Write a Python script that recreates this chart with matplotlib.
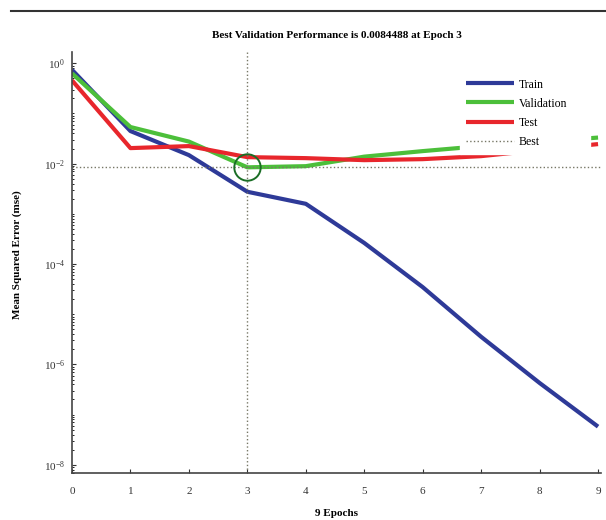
import numpy as np
import matplotlib
matplotlib.use('Agg')
import matplotlib.pyplot as plt
from matplotlib.ticker import FixedLocator, LogLocator, FuncFormatter, NullFormatter

plt.rcParams['font.family'] = ['Liberation Serif', 'DejaVu Serif']
plt.rcParams['mathtext.fontset'] = 'custom'
plt.rcParams['mathtext.rm'] = 'Liberation Serif'
plt.rcParams['mathtext.it'] = 'Liberation Serif:italic'
plt.rcParams['mathtext.bf'] = 'Liberation Serif:bold'

# data (log10 of mse)
epochs = [0, 1, 2, 3, 4, 5, 6, 7, 8, 9]
train_log = [-0.13, -1.35, -1.83, -2.56, -2.80, -3.58, -4.46, -5.45, -6.37, -7.24]
val_log = [-0.20, -1.27, -1.56, -2.073, -2.05, -1.86, -1.75, -1.65, -1.57, -1.48]
test_log = [-0.34, -1.69, -1.65, -1.87, -1.89, -1.93, -1.91, -1.85, -1.73, -1.61]
best_epoch = 3
best_perf = 0.0084488

train = 10 ** np.array(train_log)
val = 10 ** np.array(val_log)
test = 10 ** np.array(test_log)

fig = plt.figure(figsize=(6.06, 5.2), dpi=100)
ax = fig.add_axes([0.1188, 0.0898, 0.8729, 0.8102])

ax.plot(epochs, train, color='#2e3a98', lw=3, label='Train', solid_capstyle='butt')
ax.plot(epochs, val, color='#4cbf3a', lw=3, label='Validation', solid_capstyle='butt')
ax.plot(epochs, test, color='#e8262c', lw=3, label='Test', solid_capstyle='butt')
ax.axhline(best_perf, color='#777766', ls=':', lw=1, label='Best')
ax.axvline(best_epoch, color='#777766', ls=':', lw=1)
ax.plot([best_epoch], [best_perf], 'o', ms=19, mfc='none', mec='#1a6e26', mew=1.4)

ax.set_yscale('log')
ax.set_xlim(0, 9.05)
ax.set_ylim(10 ** -8.17, 10 ** 0.225)
ax.set_xticks(epochs)
ax.yaxis.set_major_locator(FixedLocator([1e0, 1e-2, 1e-4, 1e-6, 1e-8]))
ax.yaxis.set_major_formatter(FuncFormatter(lambda v, p: r'$10^{%d}$' % round(np.log10(v))))
ax.yaxis.set_minor_locator(LogLocator(base=10, subs=np.arange(1, 10), numticks=50))
ax.yaxis.set_minor_formatter(NullFormatter())
ax.tick_params(direction='in', labelsize=8, length=3, width=0.8, colors='#333333')
ax.tick_params(which='minor', direction='in', length=1.5, width=0.6)
ax.tick_params(axis='x', pad=10)
ax.tick_params(axis='y', pad=5)
for s in ['top', 'right']:
    ax.spines[s].set_visible(False)
for s in ['left', 'bottom']:
    ax.spines[s].set_color('#444444')
    ax.spines[s].set_linewidth(1.2)

ax.set_title('Best Validation Performance is 0.0084488 at Epoch 3',
             fontsize=8, fontweight='bold', pad=10)
ax.set_xlabel('9 Epochs', fontsize=8, fontweight='bold', labelpad=9)
ax.set_ylabel('Mean Squared Error (mse)', fontsize=8, fontweight='bold')
ax.yaxis.set_label_coords(-0.095, 0.518)

leg = ax.legend(loc='upper left', bbox_to_anchor=(0.7335, 0.7525, 0.246, 0.2),
                mode='expand', fontsize=8.5, handlelength=4.0, handletextpad=0.4,
                labelspacing=0.6, borderpad=0.55, borderaxespad=0,
                frameon=True, fancybox=False, edgecolor='white', facecolor='white',
                framealpha=1)

# page rule across the top
fig.add_artist(plt.Line2D([0.018, 1.0], [0.979, 0.979], color='#333333', lw=1.5))

fig.savefig('out.png', dpi=100)
